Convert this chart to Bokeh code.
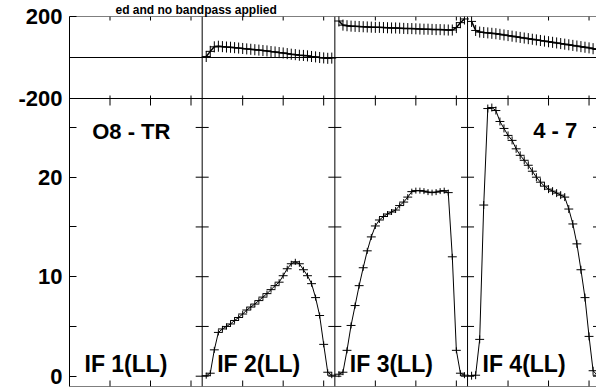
import numpy as np
from bokeh.plotting import figure
from bokeh.models import Range1d, FixedTicker, Span, Label
from bokeh.embed import file_html
from bokeh.resources import INLINE

# ---------------- data ----------------
TITLE = "ed and no bandpass applied"
BASELINE_LABEL = "O8 - TR"
TIME_LABEL = "4 - 7"
IF_LABELS = ["IF 1(LL)", "IF 2(LL)", "IF 3(LL)", "IF 4(LL)"]
CHANNELS = list(range(1, 33))

IF1_AMP = []
IF1_PHASE = []
IF2_AMP = [0.05, 0.3, 2.65, 4.4, 4.75, 5.0, 5.25, 5.6, 5.9, 6.25, 6.65, 6.95, 7.25, 7.6, 7.95, 8.3,
           8.7, 9.1, 9.45, 10.1, 10.8, 11.3, 11.5, 11.3, 10.7, 10.1, 9.3, 7.9, 6.1, 3.2, 0.4, 0.1]
IF3_AMP = [0.2, 0.4, 2.6, 5.1, 7.1, 9.1, 10.9, 12.6, 14.0, 15.1, 15.7, 16.05, 16.3, 16.5, 16.7, 17.15,
           17.5, 18.0, 18.55, 18.65, 18.65, 18.6, 18.5, 18.45, 18.5, 18.6, 18.65, 18.45, 12.0, 2.6, 0.3, 0.1]
IF4_AMP = [0.05, 0.1, 3.7, 17.2, 26.9, 27.0, 26.7, 25.6, 24.9, 24.2, 23.7, 22.85, 22.2, 21.7, 21.2, 20.6,
           20.0, 19.5, 19.1, 18.8, 18.6, 18.4, 18.2, 18.0, 16.8, 15.3, 13.3, 10.7, 7.9, 4.0, 0.55, 0.1]
IF2_PHASE = [5, 30, 52, 55, 53, 51, 50, 48, 46, 44, 42, 40, 38, 36, 34, 32,
             29, 27, 24, 22, 19, 16, 14, 11, 10, 8, 5, 3, 0, -2, -4, -3]
IF3_PHASE = [178, 158, 155, 153, 152, 151, 150, 149, 148, 147, 147, 146, 145, 144, 144, 143,
             142, 141, 141, 140, 139, 138, 138, 137, 136, 136, 135, 134, 134, 146, 170, 188]
IF4_PHASE = [176, 132, 124, 122, 120, 118, 116, 113, 110, 107, 104, 101, 98, 95, 92, 89,
             86, 83, 80, 77, 74, 71, 68, 65, 62, 59, 56, 53, 50, 47, 43, 39]
AMP_ERR = [0.0, 0.3, 0.3, 0.4]
PHASE_ERR = [0, 27, 27, 27]

AMP_TICKS = [0, 10, 20]
AMP_MINOR_TICKS = [5, 15, 25]
PHASE_TICKS = [200, -200]
CHANNEL_TICKS = [10, 20, 30]

AMPS = [IF1_AMP, IF2_AMP, IF3_AMP, IF4_AMP]
PHASES = [IF1_PHASE, IF2_PHASE, IF3_PHASE, IF4_PHASE]

# ---------------- geometry ----------------
FIG_W, FIG_H = 596, 389
FRAME_L, FRAME_T, FRAME_B = 69, 16, 386
PX_PER_CH = 4.05
PANEL_CH = 32.76
PX_PER_AMP = 9.95
AMP_ZERO_PX = 375.7
PX_PER_DEG = 0.205
SEP_PX = FRAME_T + 400 * PX_PER_DEG

x_end = (FIG_W - FRAME_L) / PX_PER_CH
amp_start = -(FRAME_B - AMP_ZERO_PX) / PX_PER_AMP
amp_end = (AMP_ZERO_PX - FRAME_T) / PX_PER_AMP
ph_end = 200.0
ph_start = ph_end - (FRAME_B - FRAME_T) / PX_PER_DEG
amp_sep = amp_start + (FRAME_B - SEP_PX) / PX_PER_AMP


def phase_to_amp(v):
    # position of a phase value expressed on the amplitude axis (same frame)
    return round(amp_end - (ph_end - v) * PX_PER_DEG / PX_PER_AMP - 1e-3, 4)


p = figure(width=FIG_W, height=FIG_H, output_backend="svg", toolbar_location=None,
           x_range=Range1d(0, x_end), y_range=Range1d(amp_start, amp_end),
           min_border_left=FRAME_L, min_border_right=0, min_border_top=FRAME_T,
           min_border_bottom=FIG_H - FRAME_B, outline_line_color=None,
           background_fill_color="white", border_fill_color="white")
p.extra_y_ranges = {"phase": Range1d(ph_start, ph_end)}
p.xgrid.visible = False
p.ygrid.visible = False
p.xaxis.visible = False

FONT = "Liberation Sans"

p.title.text = TITLE
p.title.align = "left"
p.title.offset = 46
p.title.standoff = 0
p.title.text_font = FONT
p.title.text_font_style = "bold"
p.title.text_font_size = "12px"
p.title.text_color = "black"

xt = [i * PANEL_CH + t for i in range(4) for t in CHANNEL_TICKS if i * PANEL_CH + t < x_end]

phase_pos = [phase_to_amp(v) for v in PHASE_TICKS]
ya = p.yaxis[0]
ya.ticker = FixedTicker(ticks=AMP_TICKS + phase_pos, minor_ticks=AMP_MINOR_TICKS)
ya.major_label_overrides = {pos: str(v) for pos, v in zip(phase_pos, PHASE_TICKS)}
ya.major_tick_in = 7
ya.major_tick_out = 0
ya.minor_tick_in = 7
ya.minor_tick_out = 0
ya.major_label_standoff = 7
ya.major_label_text_font = FONT
ya.major_label_text_font_style = "bold"
ya.major_label_text_font_size = "22px"
ya.major_label_text_color = "black"
ya.axis_line_color = "black"

# frame top / bottom, panel dividers, zero line, separator
p.add_layout(Span(location=amp_end, dimension="width", line_color="black", line_width=1))
p.add_layout(Span(location=amp_start, dimension="width", line_color="black", line_width=1))
for i in range(1, 4):
    p.add_layout(Span(location=i * PANEL_CH, dimension="height", line_color="black", line_width=1))
p.add_layout(Span(location=0, dimension="width", y_range_name="phase", line_color="black", line_width=1))
p.add_layout(Span(location=-200, dimension="width", y_range_name="phase", line_color="black", line_width=1))

# y ticks on dividers and right edge
all_yt = AMP_TICKS + AMP_MINOR_TICKS
div_x = [i * PANEL_CH for i in range(1, 4) for _ in all_yt]
div_y = [t for i in range(1, 4) for t in all_yt]
p.scatter(div_x, div_y, marker="dash", size=13, line_color="black", line_width=1)
p.scatter([x_end] * len(all_yt), all_yt, marker="dash", size=7, line_color="black", line_width=1)

# x ticks: frame top, separator (both sides), frame bottom
n = len(xt)
p.segment(x0=xt, x1=xt, y0=[amp_end] * n, y1=[amp_end - 4 / PX_PER_AMP] * n, line_color="black", line_width=1)
p.segment(x0=xt, x1=xt, y0=[amp_sep + 3 / PX_PER_AMP] * n, y1=[amp_sep - 7 / PX_PER_AMP] * n,
          line_color="black", line_width=1)
p.segment(x0=xt, x1=xt, y0=[amp_start] * n, y1=[amp_start + 6 / PX_PER_AMP] * n, line_color="black", line_width=1)

HW = 1.1
for i in range(4):
    amp = AMPS[i]
    ph = PHASES[i]
    if not amp:
        continue
    xs = np.array([i * PANEL_CH + c for c in CHANNELS[:len(amp)]])
    a = np.array(amp)
    f = np.array(ph)
    p.line(xs, a, line_color="black", line_width=1)
    p.segment(x0=xs, x1=xs, y0=a - AMP_ERR[i], y1=a + AMP_ERR[i], line_color="black", line_width=1)
    p.segment(x0=xs - HW, x1=xs + HW, y0=a, y1=a, line_color="black", line_width=1)
    p.line(xs, f, y_range_name="phase", line_color="black", line_width=1.5)
    p.segment(x0=xs, x1=xs, y0=f - PHASE_ERR[i], y1=f + PHASE_ERR[i], y_range_name="phase",
              line_color="black", line_width=1)
    p.segment(x0=xs - HW, x1=xs + HW, y0=f, y1=f, y_range_name="phase", line_color="black", line_width=1)

# text labels
for i, t in enumerate(IF_LABELS):
    p.add_layout(Label(x=i * PANEL_CH + 3.7, y=1.18, text=t, text_align="left", text_baseline="alphabetic",
                       text_font=FONT, text_font_style="bold", text_font_size="23px", text_color="black"))
p.add_layout(Label(x=5.6, y=24.55, text=BASELINE_LABEL, text_align="left", text_baseline="alphabetic",
                   text_font=FONT, text_font_style="bold", text_font_size="22px", text_color="black"))
p.add_layout(Label(x=125.36, y=24.7, text=TIME_LABEL, text_align="right", text_baseline="alphabetic",
                   text_font=FONT, text_font_style="bold", text_font_size="22px", text_color="black"))

open("out.html", "w").write(file_html(p, INLINE))
